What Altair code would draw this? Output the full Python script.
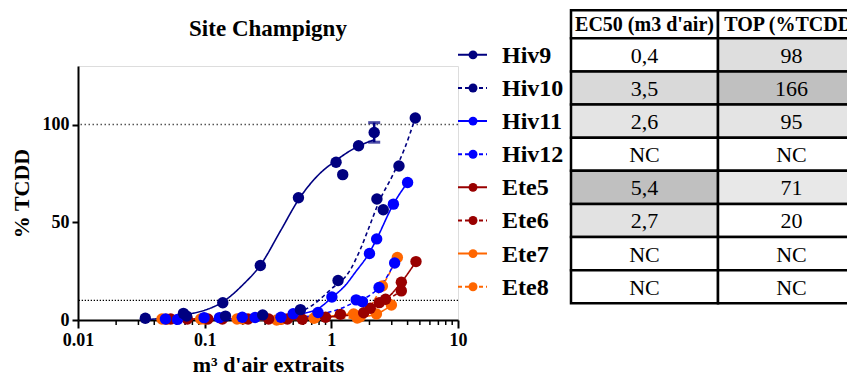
import altair as alt
import pandas as pd

# ---------------- data ----------------
series_names = ["Hiv9", "Hiv10", "Hiv11", "Hiv12", "Ete5", "Ete6", "Ete7", "Ete8"]
series_colors = ["#000080", "#000080", "#0000FF", "#0000FF", "#990000", "#990000", "#FF6600", "#FF6600"]
series_dash = ["solid", "dashed", "solid", "dashed", "solid", "dashed", "solid", "dashed"]

# measured points (x = m3 d'air extraits, y = % TCDD)
hiv9_x = [0.034, 0.068, 0.139, 0.275, 0.55, 1.09, 1.23, 1.64, 2.18]
hiv9_y = [0.9, 3.4, 8.8, 27.9, 62.6, 80.7, 74.4, 89.2, 96.0]
hiv10_x = [0.072, 0.146, 0.287, 0.57, 1.13, 2.29, 2.57, 3.42, 4.6]
hiv10_y = [2.0, 2.0, 2.6, 5.3, 20.2, 61.9, 56.4, 78.8, 103.4]
hiv11_x = [0.049, 0.099, 0.198, 0.5, 1.01, 2.0, 2.28, 3.09, 4.0]
hiv11_y = [0.5, 1.2, 1.4, 3.2, 11.8, 34.0, 41.5, 59.3, 70.4]
hiv12_x = [0.061, 0.131, 0.25, 0.40, 0.785, 1.57, 1.76, 2.38, 3.16]
hiv12_y = [0.3, 1.2, 1.3, 1.4, 3.8, 10.3, 9.4, 16.6, 29.2]
ete5_x = [0.054, 0.106, 0.22, 0.45, 0.9, 1.8, 2.39, 2.68, 3.57, 4.66]
ete5_y = [0.5, 0.5, 0.5, 0.5, 1.4, 3.7, 8.9, 10.6, 19.3, 29.9]
ete6_x = [0.073, 0.138, 0.32, 0.59, 1.18, 2.03, 3.57]
ete6_y = [0.5, 0.5, 0.5, 0.4, 2.9, 6.0, 14.9]
ete7_x = [0.046, 0.093, 0.18, 0.37, 0.73, 1.5, 1.69, 2.27, 2.98]
ete7_y = [0.5, 0.5, 0.5, 0.0, 0.9, 3.1, 1.7, 3.1, 7.7]
ete8_x = [0.05, 0.1, 0.2, 0.4, 0.75, 1.6, 2.53, 3.32]
ete8_y = [0.4, 0.5, 0.5, 0.3, 1.5, 1.0, 17.4, 32.0]

# fitted curves as drawn
hiv9_cx = [0.037, 0.05, 0.068, 0.1, 0.137, 0.2, 0.275, 0.4, 0.55, 0.77, 1.08, 1.64, 2.2]
hiv9_cy = [0.3, 1.2, 2.6, 5.0, 9.0, 18.0, 28.0, 46.0, 61.5, 73.5, 81.5, 89.0, 92.3]
hiv10_cx = [0.2, 0.3, 0.475, 0.68, 0.98, 1.41, 1.69, 2.0, 2.36, 3.1, 3.8, 4.6]
hiv10_cy = [0.6, 1.0, 2.6, 6.8, 15.4, 25.6, 36.0, 48.0, 60.0, 75.0, 88.0, 103.4]
hiv11_cx = [0.1, 0.23, 0.5, 0.77, 1.01, 1.3, 1.55, 2.0, 2.28, 3.09, 4.0]
hiv11_cy = [0.2, 0.8, 2.6, 5.5, 11.5, 18.0, 24.5, 34.5, 41.5, 59.3, 70.4]
hiv12_cx = [0.3, 0.6, 0.9, 1.2, 1.57, 2.0, 2.38, 2.8, 3.16]
hiv12_cy = [0.5, 1.5, 3.5, 6.0, 9.5, 12.5, 16.6, 23.0, 29.2]

# error bar on last Hiv9 point
err_x = [2.18]
err_lo = [91.0]
err_hi = [101.0]

ref_high = [100]
ref_low = [10]
x_major = [0.01, 0.1, 1, 10]
x_minor = [0.02, 0.03, 0.04, 0.05, 0.06, 0.07, 0.08, 0.09,
           0.2, 0.3, 0.4, 0.5, 0.6, 0.7, 0.8, 0.9,
           2, 3, 4, 5, 6, 7, 8, 9]
y_ticks = [0, 50, 100]

chart_title = ["Site Champigny"]

# table
table_headers = ["EC50 (m3 d'air)", "TOP (%TCDD)"]
ec50_vals = ["0,4", "3,5", "2,6", "NC", "5,4", "2,7", "NC", "NC"]
top_vals = ["98", "166", "95", "NC", "71", "20", "NC", "NC"]
ec50_fill = ["#ffffff", "#d9d9d9", "#e4e4e4", "#ffffff", "#c0c0c0", "#e2e2e2", "#ffffff", "#ffffff"]
top_fill = ["#dedede", "#c0c0c0", "#e4e4e4", "#ffffff", "#e8e8e8", "#ffffff", "#ffffff", "#ffffff"]

# ---------------- build tables ----------------
pts = {"Hiv9": (hiv9_x, hiv9_y), "Hiv10": (hiv10_x, hiv10_y), "Hiv11": (hiv11_x, hiv11_y),
       "Hiv12": (hiv12_x, hiv12_y), "Ete5": (ete5_x, ete5_y), "Ete6": (ete6_x, ete6_y),
       "Ete7": (ete7_x, ete7_y), "Ete8": (ete8_x, ete8_y)}
curves = {"Hiv9": (hiv9_cx, hiv9_cy), "Hiv10": (hiv10_cx, hiv10_cy),
          "Hiv11": (hiv11_cx, hiv11_cy), "Hiv12": (hiv12_cx, hiv12_cy),
          "Ete5": (ete5_x, ete5_y), "Ete6": (ete6_x, ete6_y),
          "Ete7": (ete7_x, ete7_y), "Ete8": (ete8_x, ete8_y)}
dash_of = dict(zip(series_names, series_dash))

draw_order = list(reversed(series_names))
pt_rows, ln_rows = [], []
for s in draw_order:
    xs, ys = pts[s]
    for a, b in zip(xs, ys):
        pt_rows.append({"series": s, "x": a, "y": b, "dash": dash_of[s]})
    cx, cy = curves[s]
    for a, b in zip(cx, cy):
        ln_rows.append({"series": s, "x": a, "y": b, "dash": dash_of[s]})
pts_df = pd.DataFrame(pt_rows)
ln_df = pd.DataFrame(ln_rows)

FONT = "'Liberation Serif', 'Times New Roman', Times, 'DejaVu Serif', serif"
color_scale = alt.Scale(domain=series_names, range=series_colors)
dash_scale = alt.Scale(domain=["solid", "dashed"], range=[[1, 0], [4, 3]])
x_scale = alt.Scale(type="log", domain=[0.01, 10], nice=False)
y_scale = alt.Scale(domain=[0, 130], nice=False, zero=False)

x_axis = alt.Axis(values=x_major, format="~g", title="m³ d'air extraits", grid=False,
                  labelFlush=False, tickSize=8, tickWidth=2, domainWidth=2,
                  domainColor="black", tickColor="black", labelColor="black",
                  labelFont=FONT, labelFontSize=18, labelFontWeight="bold", labelPadding=3,
                  titleFont=FONT, titleFontSize=22, titleFontWeight="bold", titleColor="black",
                  titleX=190, titleY=51, titleBaseline="alphabetic")
y_axis = alt.Axis(values=y_ticks, title="% TCDD", grid=False, tickSize=6, tickWidth=2,
                  domainWidth=2, domainColor="black", tickColor="black", labelColor="black",
                  labelFont=FONT, labelFontSize=18, labelFontWeight="bold", labelPadding=3,
                  titleFont=FONT, titleFontSize=22, titleFontWeight="bold", titleColor="black",
                  titleX=-50, titleY=127, titleBaseline="alphabetic", titleAngle=270)

X = lambda f: alt.X(f, scale=x_scale, axis=x_axis)
Y = lambda f: alt.Y(f, scale=y_scale, axis=y_axis)

ref_hi_layer = alt.Chart(pd.DataFrame({"y": ref_high})).mark_rule(
    color="#555555", strokeDash=[1.5, 2.5], strokeWidth=1.5).encode(y=Y("y:Q"))
ref_lo_layer = alt.Chart(pd.DataFrame({"y": ref_low})).mark_rule(
    color="#000000", strokeDash=[1.3, 1.7], strokeWidth=1.3).encode(y=Y("y:Q"))

minor_layer = alt.Chart(pd.DataFrame({"x": x_minor})).mark_rule(
    color="black", strokeWidth=1.5, clip=False).encode(
    x=X("x:Q"), y=alt.value(254), y2=alt.value(259))

lines_layer = alt.Chart(ln_df).mark_line(interpolate="monotone", strokeWidth=1.6).encode(
    x=X("x:Q"), y=Y("y:Q"),
    color=alt.Color("series:N", scale=color_scale, legend=None),
    strokeDash=alt.StrokeDash("dash:N", scale=dash_scale, legend=None),
    detail="series:N")

err_df = pd.DataFrame({"x": err_x, "lo": err_lo, "hi": err_hi})
err_rule = alt.Chart(err_df).mark_rule(color="#000080", strokeWidth=2.5).encode(
    x=X("x:Q"), y=Y("lo:Q"), y2="hi:Q")
caps_df = pd.DataFrame({"x": err_x * 2, "y": err_lo + err_hi})
err_caps = alt.Chart(caps_df).mark_tick(color="#000080", orient="horizontal",
                                        size=12, thickness=3).encode(x=X("x:Q"), y=Y("y:Q"))

points_layer = alt.Chart(pts_df).mark_circle(size=130, opacity=1).encode(
    x=X("x:Q"), y=Y("y:Q"),
    color=alt.Color("series:N", scale=color_scale, legend=None))

plot = alt.layer(ref_hi_layer, ref_lo_layer, minor_layer, lines_layer,
                 err_rule, err_caps, points_layer)

# ---------------- legend + table + title ----------------
tx = alt.Scale(domain=[0, 2], range=[493, 787])
ty = alt.Scale(domain=[0, 8], range=[-27.7, 237.3])

cell_rows = []
for c, h in enumerate(table_headers):
    cell_rows.append({"c0": c, "c1": c + 1, "r0": -0.85, "r1": 0, "cm": c + 0.5,
                      "rm": -0.42, "fill": "#ffffff", "label": h, "head": "yes"})
for k in range(len(series_names)):
    for c, (vals, fills) in enumerate([(ec50_vals, ec50_fill), (top_vals, top_fill)]):
        cell_rows.append({"c0": c, "c1": c + 1, "r0": k, "r1": k + 1, "cm": c + 0.5,
                          "rm": k + 0.5, "fill": fills[k], "label": vals[k], "head": "no"})
cells_df = pd.DataFrame(cell_rows)

cells = alt.Chart(cells_df).mark_rect(stroke="black", strokeWidth=2.5).encode(
    x=alt.X("c0:Q", scale=tx, axis=None), x2="c1:Q",
    y=alt.Y("r0:Q", scale=ty, axis=None), y2="r1:Q",
    fill=alt.Fill("fill:N", scale=None))
cell_text = alt.Chart(cells_df).transform_filter("datum.head == 'no'").mark_text(
    font=FONT, fontSize=22, color="black", baseline="middle", align="center", dy=1).encode(
    x=alt.X("cm:Q", scale=tx, axis=None), y=alt.Y("rm:Q", scale=ty, axis=None), text="label:N")
head_text = alt.Chart(cells_df).transform_filter("datum.head == 'yes'").mark_text(
    font=FONT, fontSize=20, fontWeight="bold", color="black", baseline="middle",
    align="center", dy=1).encode(
    x=alt.X("cm:Q", scale=tx, axis=None), y=alt.Y("rm:Q", scale=ty, axis=None), text="label:N")

leg_df = pd.DataFrame({"series": series_names, "dash": series_dash,
                       "rm": [k + 0.5 for k in range(len(series_names))]})
leg_lines = alt.Chart(leg_df).mark_rule(strokeWidth=2).encode(
    x=alt.value(380), x2=alt.value(409),
    y=alt.Y("rm:Q", scale=ty, axis=None),
    color=alt.Color("series:N", scale=color_scale, legend=None),
    strokeDash=alt.StrokeDash("dash:N", scale=dash_scale, legend=None))
leg_pts = alt.Chart(leg_df).mark_circle(size=80, opacity=1).encode(
    x=alt.value(395), y=alt.Y("rm:Q", scale=ty, axis=None),
    color=alt.Color("series:N", scale=color_scale, legend=None))
leg_text = alt.Chart(leg_df).mark_text(font=FONT, fontSize=24, fontWeight="bold",
                                       color="black", align="left", baseline="middle", dy=1).encode(
    x=alt.value(424), y=alt.Y("rm:Q", scale=ty, axis=None), text="series:N")

title_text = alt.Chart(pd.DataFrame({"t": chart_title})).mark_text(
    font=FONT, fontSize=23, fontWeight="bold", color="black",
    align="center", baseline="alphabetic").encode(
    x=alt.value(190), y=alt.value(-30), text="t:N")

table = alt.layer(cells, cell_text, head_text, leg_lines, leg_pts, leg_text, title_text)

chart = alt.layer(plot, table).resolve_scale(x="independent", y="independent").properties(
    width=380, height=254,
    autosize=alt.AutoSizeParams(type="none"),
    padding={"left": 70, "top": 58, "right": 389, "bottom": 55},
).configure_view(stroke=None).configure(background="white")

chart.save("out.html", embed_options={"renderer": "svg", "actions": False})
